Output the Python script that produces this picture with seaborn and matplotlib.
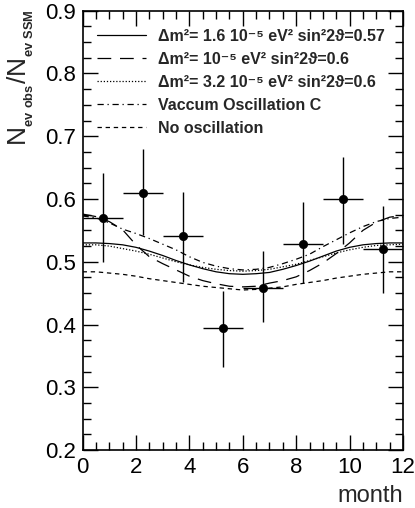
import numpy as np
import pandas as pd
import seaborn as sns
import matplotlib.pyplot as plt

# data points (month bins)
month_pts = [0.75, 2.25, 3.75, 5.25, 6.75, 8.25, 9.75, 11.25]
ratio_pts = [0.569, 0.609, 0.541, 0.395, 0.458, 0.529, 0.600, 0.521]
err_lo = [0.070, 0.067, 0.073, 0.062, 0.054, 0.063, 0.071, 0.070]
err_hi = [0.072, 0.070, 0.070, 0.058, 0.059, 0.067, 0.067, 0.068]
month_err = [0.75] * 8

# model curves sampled every half month
months = [0, 0.5, 1, 1.5, 2, 2.5, 3, 3.5, 4, 4.5, 5, 5.5, 6,
          6.5, 7, 7.5, 8, 8.5, 9, 9.5, 10, 10.5, 11, 11.5, 12]
msw_16 = [0.530, 0.530, 0.529, 0.527, 0.523, 0.517, 0.510, 0.502, 0.495, 0.489, 0.484, 0.481, 0.480,
          0.481, 0.483, 0.488, 0.494, 0.501, 0.509, 0.517, 0.523, 0.527, 0.529, 0.530, 0.530]
msw_10 = [0.576, 0.572, 0.564, 0.551, 0.527, 0.508, 0.497, 0.487, 0.477, 0.470, 0.465, 0.461, 0.460,
          0.461, 0.466, 0.470, 0.476, 0.486, 0.498, 0.513, 0.530, 0.550, 0.563, 0.571, 0.574]
msw_32 = [0.527, 0.527, 0.525, 0.521, 0.517, 0.512, 0.506, 0.500, 0.495, 0.491, 0.488, 0.486, 0.485,
          0.486, 0.488, 0.492, 0.496, 0.502, 0.508, 0.514, 0.519, 0.523, 0.526, 0.527, 0.528]
vac_c = [0.573, 0.570, 0.562, 0.552, 0.545, 0.537, 0.528, 0.519, 0.508, 0.499, 0.493, 0.489, 0.487,
         0.488, 0.491, 0.497, 0.504, 0.512, 0.524, 0.535, 0.546, 0.556, 0.564, 0.569, 0.571]
no_osc = [0.484, 0.484, 0.482, 0.480, 0.477, 0.473, 0.470, 0.467, 0.464, 0.461, 0.459, 0.457, 0.455,
          0.456, 0.458, 0.460, 0.464, 0.467, 0.470, 0.474, 0.477, 0.480, 0.482, 0.484, 0.484]

labels = ['Δm²= 1.6 10⁻⁵ eV² sin²2ϑ=0.57',
          'Δm²= 10⁻⁵ eV² sin²2ϑ=0.6',
          'Δm²= 3.2 10⁻⁵ eV² sin²2ϑ=0.6',
          'Vaccum Oscillation C',
          'No oscillation']

sns.set_style('ticks')
plt.rcParams['font.family'] = ['Liberation Sans', 'DejaVu Sans']
plt.rcParams['mathtext.fontset'] = 'custom'
plt.rcParams['mathtext.rm'] = 'Liberation Sans'
plt.rcParams['mathtext.bf'] = 'Liberation Sans:bold'

fig = plt.figure(figsize=(4.15, 5.08), dpi=100)
ax = fig.add_axes([0.199, 0.114, 0.772, 0.865])

styles = ['-', (0, (11, 7)), (0, (1, 1.5)), (0, (5, 3, 1, 3)), (0, (3.5, 3))]
curves = [msw_16, msw_10, msw_32, vac_c, no_osc]
for y, ls, lab in zip(curves, styles, labels):
    sns.lineplot(x=months, y=y, ax=ax, color='black', lw=0.9, linestyle=ls, label=lab)

ax.errorbar(month_pts, ratio_pts, xerr=month_err, yerr=[err_lo, err_hi],
            fmt='none', ecolor='black', elinewidth=1.0, capsize=0)
sns.scatterplot(x=month_pts, y=ratio_pts, ax=ax, color='black', s=36,
                edgecolor='black', zorder=5)

ax.set_xlim(0, 12)
ax.set_ylim(0.2, 0.9)
ax.set_xticks(np.arange(0, 13, 2))
ax.set_xticks(np.arange(0, 12.01, 0.5), minor=True)
ax.set_yticks(np.arange(0.2, 0.91, 0.1))
ax.set_yticks(np.arange(0.2, 0.901, 0.025), minor=True)
ax.set_xticklabels([str(v) for v in range(0, 13, 2)])
ax.set_yticklabels([f'{v:.1f}' for v in np.arange(0.2, 0.91, 0.1)])
ax.tick_params(which='both', direction='in', top=True, right=True, width=1.0,
               labelsize=16, colors='black')
ax.tick_params(which='major', length=11, pad=5)
ax.tick_params(which='minor', length=6)
for s in ax.spines.values():
    s.set_linewidth(1.2)
    s.set_color('black')

ax.set_xlabel('month', loc='right', fontsize=17, labelpad=5)
ax.set_ylabel('')
fig.text(0.012, 0.982,
         r'$\mathrm{N}_{_{\mathbf{ev\ obs}}}\mathrm{/N}_{_{\mathbf{ev\ SSM}}}$',
         rotation=90, ha='left', va='top', fontsize=19)

ax.legend(loc='upper left', bbox_to_anchor=(0.0, 0.992), frameon=False,
          handlelength=3.1, handletextpad=0.7, labelspacing=0.5,
          prop={'weight': 'bold', 'size': 11.5})

plt.savefig('out.png', dpi=100)
